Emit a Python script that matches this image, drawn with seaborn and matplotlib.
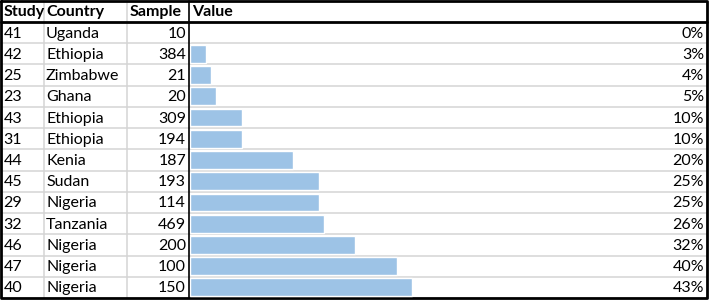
import matplotlib
matplotlib.use("Agg")
import matplotlib.pyplot as plt
import seaborn as sns
import pandas as pd

study = [41, 42, 25, 23, 43, 31, 44, 45, 29, 32, 46, 47, 40]
country = ["Uganda", "Ethiopia", "Zimbabwe", "Ghana", "Ethiopia", "Ethiopia", "Kenia",
           "Sudan", "Nigeria", "Tanzania", "Nigeria", "Nigeria", "Nigeria"]
sample = [10, 384, 21, 20, 309, 194, 187, 193, 114, 469, 200, 100, 150]
value = [0.00, 0.03, 0.04, 0.05, 0.10, 0.10, 0.20, 0.25, 0.25, 0.26, 0.32, 0.40, 0.43]
headers = ["Study", "Country", "Sample", "Value"]

df = pd.DataFrame({"study": study, "country": country, "sample": sample, "value": value})
df["row"] = range(len(df))

sns.set_theme(style="white")
plt.rcParams["font.family"] = ["Lato", "DejaVu Sans"]

W, H = 709, 300
fig = plt.figure(figsize=(W / 100, H / 100), dpi=100)

# table frame in pixel units
tab = fig.add_axes([0, 0, 1, 1])
tab.set_xlim(0, W)
tab.set_ylim(H, 0)
tab.axis("off")

head_h = 22
n = len(df)
row_h = (298 - head_h) / n
col_x = [1, 44, 127, 189, 707]

# light grid
for i in range(1, n):
    y = head_h + i * row_h
    tab.plot([1, 707], [y, y], color="#d4d4d4", lw=1.1, zorder=1)
for x in col_x[1:3]:
    tab.plot([x, x], [1, 298], color="#d4d4d4", lw=1.1, zorder=1)
tab.plot([189, 189], [1, 298], color="black", lw=1.2, zorder=3)
tab.plot([1, 707], [head_h, head_h], color="black", lw=2, zorder=3)
tab.plot([1, 707, 707, 1, 1], [1, 1, 298, 298, 1], color="black", lw=2, zorder=3)

fs = 11.5
hx = [3.5, 46, 130, 192]
for x, h in zip(hx, headers):
    tab.text(x, head_h / 2 + 1, h, ha="left", va="center", fontsize=fs, fontweight="bold", color="black")

for i, r in df.iterrows():
    yc = head_h + (i + 0.5) * row_h + 1
    tab.text(3.5, yc, str(r["study"]), ha="left", va="center", fontsize=fs, color="black")
    tab.text(46, yc, r["country"], ha="left", va="center", fontsize=fs, color="black")
    tab.text(186, yc, str(r["sample"]), ha="right", va="center", fontsize=fs, color="black")
    tab.text(704, yc, f"{r['value']:.0%}", ha="right", va="center", fontsize=fs, color="black", zorder=5)

# data bars
bx = fig.add_axes([190 / W, (H - 298) / H, (707 - 190) / W, (298 - head_h) / H])
bx.patch.set_alpha(0)
sns.barplot(data=df, x="value", y="row", orient="h", order=list(range(n)),
            color="#9dc3e6", saturation=1, width=0.84, ax=bx)
bx.set_xlim(0, 1)
bx.set_ylim(n - 0.5, -0.5)
bx.axis("off")

fig.savefig("out.png", dpi=100)
